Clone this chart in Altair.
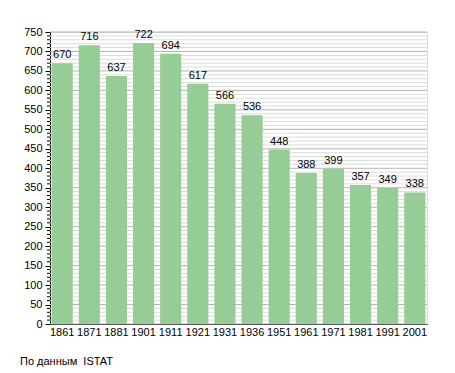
import altair as alt
import pandas as pd

years = ["1861", "1871", "1881", "1901", "1911", "1921", "1931", "1936", "1951", "1961", "1971", "1981", "1991", "2001"]
population = [670, 716, 637, 722, 694, 617, 566, 536, 448, 388, 399, 357, 349, 338]
major_ticks = list(range(0, 751, 50))
minor_ticks = [v for v in range(0, 751, 10) if v % 50 != 0]
source_note = "По данным\u00a0\u00a0ISTAT"

df = pd.DataFrame({"year": years, "pop": population})
minor_df = pd.DataFrame({"v": minor_ticks})
major_df = pd.DataFrame({"v": major_ticks})

W, H = 377, 292
FONT = "Liberation Sans"

yscale = alt.Scale(domain=[0, 750], nice=False, zero=True)
xscale = alt.Scale(domain=years, paddingInner=0.22, paddingOuter=0.06)
y_axis = alt.Axis(title=None, values=major_ticks, grid=False, domainColor="#000000",
                  tickColor="#000000", tickSize=5, labelFont=FONT, labelFontSize=11,
                  labelColor="#000000", labelPadding=3)
x_axis = alt.Axis(title=None, labelAngle=0, ticks=False, domainColor="#000000",
                  labelFont=FONT, labelFontSize=11, labelColor="#000000", labelPadding=2)

minor_grid = alt.Chart(minor_df).mark_rule(color="#dcdcdc", strokeWidth=1).encode(
    y=alt.Y("v:Q", scale=yscale, axis=y_axis),
    x=alt.value(0), x2=alt.value(W),
)
major_grid = alt.Chart(major_df).mark_rule(color="#b4b4b4", strokeWidth=1).encode(
    y=alt.Y("v:Q", scale=yscale, axis=y_axis),
    x=alt.value(0), x2=alt.value(W),
)
minor_tk = alt.Chart(minor_df).mark_rule(color="#000000", strokeWidth=1).encode(
    y=alt.Y("v:Q", scale=yscale, axis=y_axis),
    x=alt.value(-3), x2=alt.value(0),
)

bars = alt.Chart(df).mark_bar(color="#96cc96").encode(
    x=alt.X("year:N", scale=xscale, sort=years, axis=x_axis),
    y=alt.Y("pop:Q", scale=yscale, axis=y_axis),
)
labels = alt.Chart(df).mark_text(baseline="bottom", dy=-3, font=FONT, fontSize=11, color="#000000").encode(
    x=alt.X("year:N", scale=xscale, sort=years, axis=x_axis),
    y=alt.Y("pop:Q", scale=yscale, axis=y_axis),
    text="pop:Q",
)
note = alt.Chart(pd.DataFrame({"t": [source_note]})).mark_text(
    align="left", baseline="middle", font=FONT, fontSize=11, color="#000000"
).encode(x=alt.value(-30), y=alt.value(330), text="t:N")

chart = alt.layer(minor_grid, major_grid, minor_tk, bars, labels, note).properties(
    width=W, height=H,
    autosize=alt.AutoSizeParams(type="none"),
    padding={"left": 42, "top": 24, "right": 20, "bottom": 45},
).configure_view(stroke=None).configure(background="white")

chart.save("out.html", embed_options={"renderer": "svg", "actions": False})
